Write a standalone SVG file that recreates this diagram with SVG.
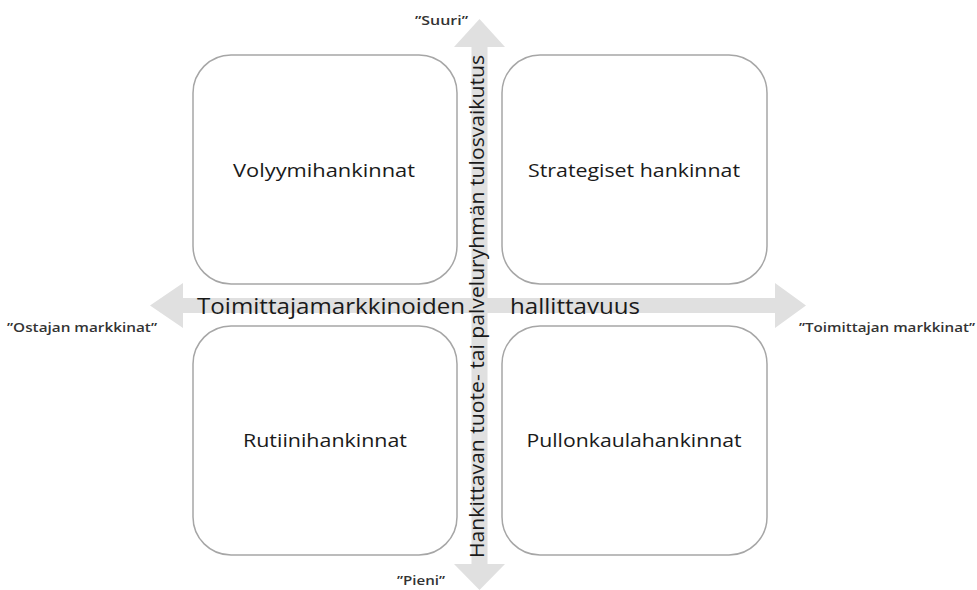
<svg xmlns="http://www.w3.org/2000/svg" width="977" height="590" viewBox="0 0 977 590">
  <style>
    .box { fill: #ffffff; stroke: #a6a6a6; stroke-width: 1.5; }
    .axis { fill: #e0e0e0; stroke: none; }
    .lbl { font-family: "Open Sans", "Liberation Sans", sans-serif; font-size: 18px; fill: #1a1a1a; text-anchor: middle; }
    .axt { font-family: "Open Sans", "Liberation Sans", sans-serif; fill: #1a1a1a; }
    .end { font-family: "Open Sans", "Liberation Sans", sans-serif; font-size: 12.5px; fill: #333333; font-weight: 600; }
  </style>
  <rect width="977" height="590" fill="#ffffff"/>

  <!-- quadrant boxes -->
  <g id="volyymihankinnat">
    <rect class="box" x="193" y="55" width="264" height="229" rx="38" ry="38"/>
    <text class="lbl" x="324" y="177" textLength="182" lengthAdjust="spacingAndGlyphs">Volyymihankinnat</text>
  </g>
  <g id="strategiset">
    <rect class="box" x="502" y="55" width="265" height="229" rx="38" ry="38"/>
    <text class="lbl" x="634" y="177" textLength="212" lengthAdjust="spacingAndGlyphs">Strategiset hankinnat</text>
  </g>
  <g id="rutiinihankinnat">
    <rect class="box" x="193" y="326" width="264" height="229" rx="38" ry="38"/>
    <text class="lbl" x="325" y="447" textLength="164" lengthAdjust="spacingAndGlyphs">Rutiinihankinnat</text>
  </g>
  <g id="pullonkaulahankinnat">
    <rect class="box" x="502" y="326" width="265" height="229" rx="38" ry="38"/>
    <text class="lbl" x="634" y="447" textLength="215" lengthAdjust="spacingAndGlyphs">Pullonkaulahankinnat</text>
  </g>

  <!-- axis arrows -->
  <g id="connectors">
    <polygon class="axis" points="150,305.5 183,283 183,298 775,298 775,283 806,305.5 775,328 775,313 183,313 183,328"/>
    <polygon class="axis" points="479.5,19 505,47 487.5,47 487.5,564 505,564 479.5,590 454,564 471.5,564 471.5,47 454,47"/>
  </g>

  <!-- axis titles -->
  <g id="axis-x">
    <text class="axt" x="197" y="314" font-size="22" textLength="268" lengthAdjust="spacingAndGlyphs">Toimittajamarkkinoiden</text>
    <text class="axt" x="510" y="314" font-size="22" textLength="130" lengthAdjust="spacingAndGlyphs">hallittavuus</text>
  </g>
  <g id="axis-y">
    <text class="axt" transform="translate(484,306.5) rotate(-90)" x="0" y="0" font-size="20" text-anchor="middle" textLength="503" lengthAdjust="spacingAndGlyphs">Hankittavan tuote- tai palveluryhmän tulosvaikutus</text>
  </g>

  <!-- axis end labels -->
  <g id="ends">
    <text class="end" x="415" y="25" textLength="53" lengthAdjust="spacingAndGlyphs">”Suuri”</text>
    <text class="end" x="397" y="585" textLength="48" lengthAdjust="spacingAndGlyphs">”Pieni”</text>
    <text class="end" x="7" y="332" textLength="150" lengthAdjust="spacingAndGlyphs">”Ostajan markkinat”</text>
    <text class="end" x="799" y="332" textLength="176" lengthAdjust="spacingAndGlyphs">”Toimittajan markkinat”</text>
  </g>
</svg>
